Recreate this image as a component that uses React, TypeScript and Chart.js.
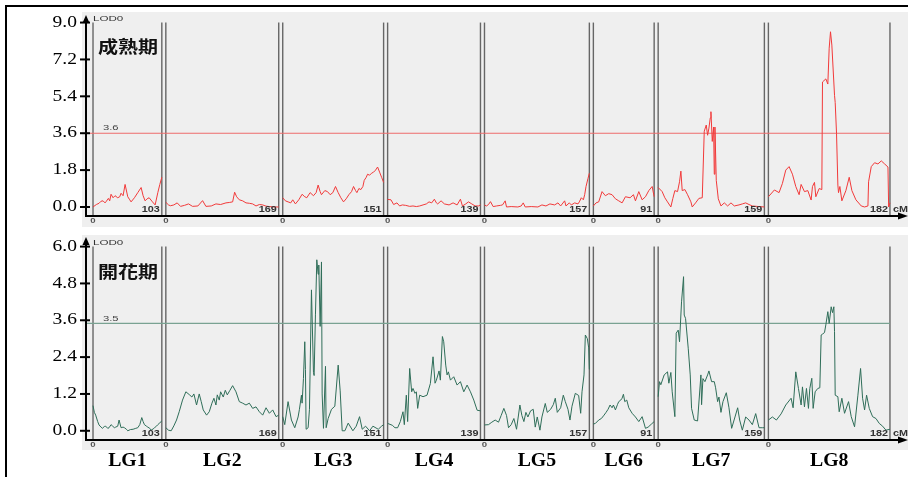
import React, { useEffect, useRef } from "react";
import { Chart, registerables } from "chart.js";

Chart.register(...registerables);

// ---------- data ----------
const linkageGroups = ["LG1", "LG2", "LG3", "LG4", "LG5", "LG6", "LG7", "LG8"];
const groupLengths = [103, 169, 151, 139, 157, 91, 159, 182];
const groupGap = 6;
const xMin = -10.5;
const xMax = 1217;

const maturityTicks = [0, 1.8, 3.6, 5.4, 7.2, 9.0];
const floweringTicks = [0, 1.2, 2.4, 3.6, 4.8, 6.0];
const maturityThreshold = 3.6;
const floweringThreshold = 3.5;
const maturityTitle = "成熟期";
const floweringTitle = "開花期";
const yAxisLabel = "LOD0";
const xAxisUnit = "cM";

// maturity (成熟期) LOD profiles: [cM, LOD]
const maturityLG1 = [[0,0.0],[5,0.12],[9,0.18],[12,0.28],[15,0.3],[18,0.2],[20,0.28],[23,0.42],[25,0.3],[27,0.62],[30,0.45],[33,0.55],[37,0.45],[40,0.5],[42,0.67],[45,0.55],[48,1.1],[52,0.5],[55,0.35],[57,0.25],[62,0.45],[67,0.7],[72,0.95],[75,0.55],[78,0.3],[81,0.4],[84,0.45],[89,0.25],[93,0.1],[97,0.7],[100,1.1],[103,1.45]];
const maturityLG2 = [[0,0.23],[4,0.1],[7,0.06],[12,0.1],[17,0.2],[22,0.03],[28,0.08],[34,0.15],[40,0.03],[48,0.05],[55,0.31],[60,0.03],[68,0.05],[75,0.15],[82,0.12],[90,0.2],[95,0.22],[100,0.25],[103,0.72],[106,0.5],[110,0.35],[115,0.3],[120,0.2],[125,0.18],[130,0.15],[135,0.05],[140,0.12],[145,0.1],[150,0.04],[155,0.02],[162,0.0],[169,0.0]];
const maturityLG3 = [[0,0.45],[4,0.3],[8,0.25],[12,0.2],[15,0.35],[19,0.15],[24,0.35],[29,0.62],[33,0.5],[36,0.45],[41,0.7],[46,0.55],[50,0.7],[53,1.07],[56,0.75],[58,0.6],[63,0.8],[67,0.75],[71,0.6],[75,0.7],[79,1.0],[83,0.7],[87,0.45],[91,0.25],[95,0.4],[99,0.6],[103,0.75],[106,1.0],[109,0.8],[111,0.7],[114,0.9],[117,0.85],[120,1.0],[122,1.3],[125,1.45],[127,1.6],[130,1.55],[133,1.65],[136,1.7],[139,1.8],[142,1.95],[145,1.7],[148,1.45],[151,1.2]];
const maturityLG4 = [[0,0.37],[5,0.35],[9,0.12],[14,0.2],[18,0.05],[22,0.1],[27,0.08],[33,0.03],[38,0.05],[43,0.02],[48,0.05],[53,0.1],[58,0.15],[62,0.25],[66,0.2],[70,0.38],[73,0.2],[75,0.15],[80,0.3],[85,0.15],[92,0.1],[98,0.2],[104,0.1],[109,0.38],[112,0.05],[117,0.15],[121,0.25],[126,0.15],[131,0.05],[136,0.05],[139,0.1]];
const maturityLG5 = [[0,0.1],[3,0.05],[6,0.12],[9,0.26],[13,0.02],[18,0.05],[24,0.08],[27,0.1],[31,0.3],[33,0.0],[40,0.02],[50,0.0],[55,0.05],[58,0.2],[61,0.0],[70,0.02],[80,0.0],[86,0.1],[92,0.05],[98,0.15],[105,0.1],[110,0.2],[114,0.05],[120,0.3],[122,0.05],[127,0.2],[130,0.1],[135,0.2],[140,0.15],[142,0.25],[145,0.45],[148,0.35],[150,0.6],[152,1.0],[155,1.4],[157,1.65]];
const maturityLG6 = [[0,0.05],[4,0.2],[8,0.25],[13,0.75],[18,0.55],[23,0.65],[28,0.6],[33,0.4],[38,0.3],[43,0.2],[48,0.5],[55,0.45],[60,0.6],[63,0.3],[68,0.75],[73,0.35],[78,0.5],[83,0.8],[88,1.0],[91,0.5]];
const maturityLG7 = [[0,0.95],[6,0.75],[10,0.45],[14,0.25],[19,0.0],[22,0.42],[25,0.8],[29,0.75],[32,1.23],[34,1.75],[36,0.8],[40,0.85],[44,0.6],[49,0.25],[51,0.0],[56,0.2],[61,0.42],[66,0.45],[69,3.7],[72,4.0],[74,3.5],[76,3.85],[78,4.35],[79,4.65],[81,3.2],[83,3.9],[84,1.6],[85,3.9],[87,1.3],[90,0.4],[94,0.05],[99,0.2],[104,0.05],[109,0.2],[114,0.05],[121,0.1],[126,0.15],[131,0.2],[136,0.12],[141,0.05],[151,0.02],[159,0.0]];
const maturityLG8 = [[0,0.5],[9,0.83],[16,0.7],[21,1.15],[26,1.8],[31,1.97],[36,1.6],[41,1.0],[46,0.6],[49,1.1],[54,0.75],[59,0.8],[64,0.34],[66,1.0],[69,1.2],[71,0.5],[76,0.9],[80,0.85],[81,6.1],[86,6.25],[89,6.0],[91,7.75],[93,8.55],[95,7.9],[99,5.45],[100,5.1],[102,3.6],[104,1.07],[105,0.7],[107,1.0],[110,0.3],[116,0.8],[121,1.45],[125,0.8],[131,0.35],[139,0.05],[144,0.0],[149,0.05],[150,1.23],[154,1.97],[159,2.16],[164,2.1],[169,2.25],[174,2.1],[179,1.95],[180,0.0],[182,0.2]];

// flowering (開花期) LOD profiles: [cM, LOD]
const floweringLG1 = [[0,0.82],[2,0.6],[4,0.51],[7,0.3],[9,0.19],[12,0.12],[14,0.08],[17,0.14],[19,0.15],[22,0.08],[24,0.1],[27,0.2],[29,0.16],[32,0.1],[34,0.12],[37,0.15],[39,0.35],[42,0.1],[45,0.12],[47,0.1],[50,0.05],[52,0.0],[56,0.04],[60,0.05],[64,0.08],[67,0.1],[70,0.2],[73,0.43],[75,0.3],[77,0.2],[80,0.15],[82,0.12],[85,0.08],[87,0.02],[90,0.06],[92,0.1],[95,0.15],[97,0.2],[100,0.26],[103,0.32]];
const floweringLG2 = [[0,0.1],[4,0.02],[8,0.0],[12,0.16],[16,0.35],[20,0.62],[25,1.0],[30,1.27],[35,1.18],[39,1.1],[42,1.2],[46,0.84],[50,1.2],[53,0.95],[56,0.68],[61,0.51],[65,0.62],[69,0.9],[72,1.06],[75,0.84],[77,1.17],[80,1.0],[82,1.27],[86,1.1],[89,1.32],[92,1.17],[96,1.32],[100,1.47],[105,1.27],[110,0.95],[115,0.9],[120,0.84],[125,0.9],[130,0.73],[135,0.78],[140,0.62],[145,0.51],[150,0.75],[155,0.57],[160,0.68],[165,0.46],[169,0.51]];
const floweringLG3 = [[0,0.46],[3,0.2],[8,0.95],[13,0.35],[18,0.1],[23,0.45],[25,0.7],[28,1.16],[29,0.9],[31,1.7],[33,2.9],[34,2.0],[35,0.05],[38,0.1],[40,0.7],[43,4.59],[46,1.9],[47,1.8],[49,3.8],[51,5.57],[53,5.1],[54,5.4],[56,3.4],[58,5.5],[59,1.2],[61,0.08],[64,2.1],[65,0.1],[68,0.4],[73,0.7],[78,0.8],[83,2.14],[86,1.3],[89,0.0],[93,0.0],[98,0.25],[105,0.0],[110,0.15],[115,0.46],[119,0.05],[124,0.15],[130,0.0],[135,0.15],[143,0.05],[148,0.15],[151,0.2]];
const floweringLG4 = [[0,0.24],[7,0.18],[11,0.1],[15,0.1],[19,0.3],[23,0.62],[25,0.2],[28,1.16],[30,0.3],[33,2.03],[36,1.27],[38,1.38],[41,1.22],[43,1.27],[45,0.73],[48,1.16],[53,1.11],[59,1.16],[64,1.54],[68,2.41],[71,1.55],[73,1.65],[77,1.95],[79,1.65],[82,3.07],[84,2.9],[87,2.14],[89,1.82],[91,1.92],[94,1.65],[99,1.76],[104,1.49],[109,1.6],[114,1.27],[119,1.49],[124,1.27],[129,1.0],[134,0.67],[139,0.65]];
const floweringLG5 = [[0,0.19],[6,0.2],[11,0.28],[16,0.35],[21,0.28],[25,0.5],[29,0.73],[33,0.5],[36,0.1],[40,0.2],[44,0.4],[48,0.05],[53,0.84],[56,0.5],[59,0.3],[62,0.6],[65,0.45],[69,0.65],[73,0.7],[76,0.12],[79,0.45],[83,0.02],[86,0.45],[91,0.89],[94,0.6],[99,0.7],[103,0.85],[106,1.06],[109,0.6],[114,0.75],[118,1.16],[121,0.95],[125,0.7],[128,0.35],[131,0.8],[136,1.22],[141,1.15],[144,0.57],[146,1.27],[149,1.82],[151,3.12],[154,3.0],[156,2.7],[157,2.0]];
const floweringLG6 = [[0,0.22],[3,0.24],[8,0.35],[12,0.4],[16,0.51],[19,0.6],[22,0.7],[25,0.84],[28,0.75],[30,0.84],[33,0.68],[36,0.85],[38,0.95],[41,1.0],[43,1.06],[45,1.19],[47,0.95],[50,1.0],[53,0.75],[58,0.57],[63,0.45],[68,0.3],[73,0.46],[78,0.08],[82,0.12],[87,0.22],[91,0.3]];
const floweringLG7 = [[0,1.11],[2,1.6],[4,1.5],[9,1.82],[14,1.92],[16,1.55],[19,1.9],[21,1.27],[25,0.46],[27,3.18],[30,3.28],[32,2.9],[35,4.2],[38,5.02],[39,3.77],[41,3.66],[45,2.69],[48,1.82],[50,0.73],[54,0.35],[59,0.32],[64,1.82],[65,0.85],[67,1.7],[70,1.6],[74,1.82],[76,1.95],[80,1.6],[84,1.6],[86,1.4],[89,0.95],[91,1.1],[94,0.6],[97,0.95],[102,1.24],[106,0.75],[110,0.08],[115,0.45],[119,0.75],[122,0.35],[126,0.02],[131,0.45],[136,0.35],[141,0.2],[146,0.56],[151,0.1],[156,0.1],[159,0.1]];
const floweringLG8 = [[0,0.35],[6,0.45],[12,0.35],[19,0.55],[26,0.84],[34,1.06],[37,0.75],[41,1.92],[45,1.38],[49,0.84],[51,1.43],[54,0.78],[57,1.38],[60,0.73],[62,1.38],[65,1.71],[67,0.73],[70,1.27],[74,1.38],[77,1.4],[79,3.12],[81,3.15],[84,3.2],[86,3.45],[89,3.88],[91,3.5],[94,4.04],[96,3.85],[98,4.04],[99,3.23],[100,1.16],[104,1.11],[106,0.62],[110,1.06],[114,0.57],[120,0.95],[124,0.46],[129,0.13],[134,1.16],[138,2.03],[141,1.06],[144,0.68],[147,1.16],[151,0.73],[156,0.46],[161,0.4],[166,0.24],[171,0.15],[176,0.02],[182,0.05]];

const maturityProfiles = [maturityLG1, maturityLG2, maturityLG3, maturityLG4, maturityLG5, maturityLG6, maturityLG7, maturityLG8];
const floweringProfiles = [floweringLG1, floweringLG2, floweringLG3, floweringLG4, floweringLG5, floweringLG6, floweringLG7, floweringLG8];

const groupOffsets: number[] = (() => {
  const o: number[] = [];
  let acc = 0;
  groupLengths.forEach((l) => { o.push(acc); acc += l + groupGap; });
  return o;
})();

// ---------- drawing helpers ----------
function drawText(ctx: CanvasRenderingContext2D, text: string, x: number, y: number, font: string, color: string, align: string, sx = 1) {
  ctx.save();
  ctx.font = font;
  ctx.fillStyle = color;
  ctx.textBaseline = "middle";
  ctx.textAlign = "left";
  const w = ctx.measureText(text).width * sx;
  const left = align === "left" ? x : align === "right" ? x - w : x - w / 2;
  ctx.translate(left, y);
  ctx.scale(sx, 1);
  ctx.fillText(text, 0, 0);
  ctx.restore();
}

type PanelCfg = {
  profiles: number[][][];
  ticks: number[];
  threshold: number;
  title: string;
  yMin: number;
  yMax: number;
  color: string;
  thresholdColor: string;
  top: number;
  height: number;
  padding: { left: number; right: number; top: number; bottom: number };
  bg: [number, number, number, number];
  titleY: number;
  showGroupNames: boolean;
  groupNameY: number;
};

function Panel({ cfg }: { cfg: PanelCfg }) {
  const ref = useRef<HTMLCanvasElement | null>(null);
  useEffect(() => {
    const canvas = ref.current!;
    const tickMax = cfg.ticks[cfg.ticks.length - 1];
    const datasets: any[] = [];
    cfg.profiles.forEach((prof, i) => {
      datasets.push({
        data: prof.map(([c, v]) => ({ x: groupOffsets[i] + c, y: v })),
        borderColor: cfg.color,
        borderWidth: 1,
        pointRadius: 0,
        tension: 0,
        fill: false,
        order: 0,
      });
    });
    const lastEnd = groupOffsets[7] + groupLengths[7];
    datasets.push({
      data: [{ x: xMin, y: cfg.threshold }, { x: lastEnd, y: cfg.threshold }],
      borderColor: cfg.thresholdColor,
      borderWidth: 1.1,
      pointRadius: 0,
      fill: false,
      order: 1,
    });
    groupOffsets.forEach((o, i) => {
      [o, o + groupLengths[i]].forEach((x) => {
        datasets.push({
          data: [{ x, y: cfg.yMin }, { x, y: tickMax }],
          borderColor: "#666666",
          borderWidth: 1.4,
          pointRadius: 0,
          fill: false,
          order: 2,
        });
      });
    });

    const decor = {
      id: "decor",
      beforeDraw(chart: any) {
        const ctx = chart.ctx as CanvasRenderingContext2D;
        ctx.save();
        ctx.fillStyle = "#efefef";
        ctx.fillRect(cfg.bg[0], cfg.bg[1], cfg.bg[2], cfg.bg[3]);
        ctx.restore();
      },
      afterDraw(chart: any) {
        const ctx = chart.ctx as CanvasRenderingContext2D;
        const xs = chart.scales.x;
        const ys = chart.scales.y;
        const { left, right, top, bottom } = chart.chartArea;
        ctx.save();
        ctx.strokeStyle = "#000";
        ctx.fillStyle = "#000";
        ctx.lineWidth = 2;
        // y axis + arrow
        ctx.beginPath();
        ctx.moveTo(left, top + 5);
        ctx.lineTo(left, bottom + 1);
        ctx.stroke();
        ctx.beginPath();
        ctx.moveTo(left, top - 1);
        ctx.lineTo(left - 3.5, top + 7);
        ctx.lineTo(left + 3.5, top + 7);
        ctx.closePath();
        ctx.fill();
        // x axis + arrow
        ctx.beginPath();
        ctx.moveTo(left - 1, bottom);
        ctx.lineTo(right - 6, bottom);
        ctx.stroke();
        ctx.beginPath();
        ctx.moveTo(right + 2, bottom);
        ctx.lineTo(right - 8, bottom - 3.5);
        ctx.lineTo(right - 8, bottom + 3.5);
        ctx.closePath();
        ctx.fill();
        // y ticks
        cfg.ticks.forEach((v) => {
          const y = ys.getPixelForValue(v);
          ctx.beginPath();
          ctx.lineWidth = 2;
          ctx.moveTo(left - 6, y);
          ctx.lineTo(left + 4, y);
          ctx.stroke();
          drawText(ctx, v.toFixed(1), left - 9, y, '16px "Liberation Serif"', "#000", "right", 1.22);
        });
        // LOD label
        const yTop = ys.getPixelForValue(tickMax);
        drawText(ctx, yAxisLabel, left + 7, yTop - 4, '8px "Liberation Sans"', "#333", "left", 1.45);
        // threshold label
        const yTh = ys.getPixelForValue(cfg.threshold);
        drawText(ctx, cfg.threshold.toFixed(1), left + 17, yTh - 5, '8px "Liberation Sans"', "#444", "left", 1.4);
        // title
        drawText(ctx, cfg.title, left + 12, cfg.titleY, 'bold 17px "Noto Sans CJK TC"', "#111", "left", 1.18);
        // group labels
        groupOffsets.forEach((o, i) => {
          const xs0 = xs.getPixelForValue(o);
          const xe = xs.getPixelForValue(o + groupLengths[i]);
          drawText(ctx, "0", xs0, bottom + 5, 'bold 8px "Liberation Sans"', "#555", "center", 1.2);
          drawText(ctx, String(groupLengths[i]), xe - 2, bottom - 6, 'bold 9px "Liberation Sans"', "#333", "right", 1.2);
          if (cfg.showGroupNames) {
            drawText(ctx, linkageGroups[i], (xs0 + xe) / 2, cfg.groupNameY, 'bold 18px "Liberation Serif"', "#000", "center", 1.1);
          }
        });
        const xLast = xs.getPixelForValue(lastEnd);
        drawText(ctx, xAxisUnit, xLast + 3, bottom - 6, 'bold 9px "Liberation Sans"', "#333", "left", 1.2);
        ctx.restore();
      },
    };

    const chart = new Chart(canvas, {
      type: "line",
      data: { datasets },
      options: {
        responsive: false,
        animation: false,
        devicePixelRatio: 1,
        events: [],
        layout: { padding: cfg.padding },
        plugins: { legend: { display: false }, tooltip: { enabled: false }, title: { display: false } },
        scales: {
          x: { type: "linear", min: xMin, max: xMax, display: false },
          y: { type: "linear", min: cfg.yMin, max: cfg.yMax, display: false },
        },
      },
      plugins: [decor],
    } as any);
    return () => chart.destroy();
  }, []);
  return (
    <canvas
      ref={ref}
      width={908}
      height={cfg.height}
      style={{ position: "absolute", left: 0, top: cfg.top, width: 908, height: cfg.height }}
    />
  );
}

const maturityCfg: PanelCfg = {
  profiles: maturityProfiles,
  ticks: maturityTicks,
  threshold: maturityThreshold,
  title: maturityTitle,
  yMin: -0.44,
  yMax: 9.32,
  color: "#f23a3a",
  thresholdColor: "#ee6b6b",
  top: 0,
  height: 231,
  padding: { left: 86, right: 2, top: 16, bottom: 15 },
  bg: [82, 12, 826, 215],
  titleY: 47,
  showGroupNames: false,
  groupNameY: 0,
};

const floweringCfg: PanelCfg = {
  profiles: floweringProfiles,
  ticks: floweringTicks,
  threshold: floweringThreshold,
  title: floweringTitle,
  yMin: -0.3,
  yMax: 6.28,
  color: "#2f6e59",
  thresholdColor: "#79a292",
  top: 231,
  height: 246,
  padding: { left: 86, right: 2, top: 7, bottom: 37 },
  bg: [82, 4, 826, 215],
  titleY: 41,
  showGroupNames: true,
  groupNameY: 230,
};

export default function App() {
  return (
    <div style={{ position: "fixed", left: 0, top: 0, width: 908, height: 477, overflow: "hidden", background: "#fff" }}>
      <div
        style={{
          position: "absolute",
          left: 5,
          top: 5,
          width: 1000,
          height: 1000,
          borderTop: "2px solid #000",
          borderLeft: "2px solid #000",
        }}
      />
      <Panel cfg={maturityCfg} />
      <Panel cfg={floweringCfg} />
    </div>
  );
}
